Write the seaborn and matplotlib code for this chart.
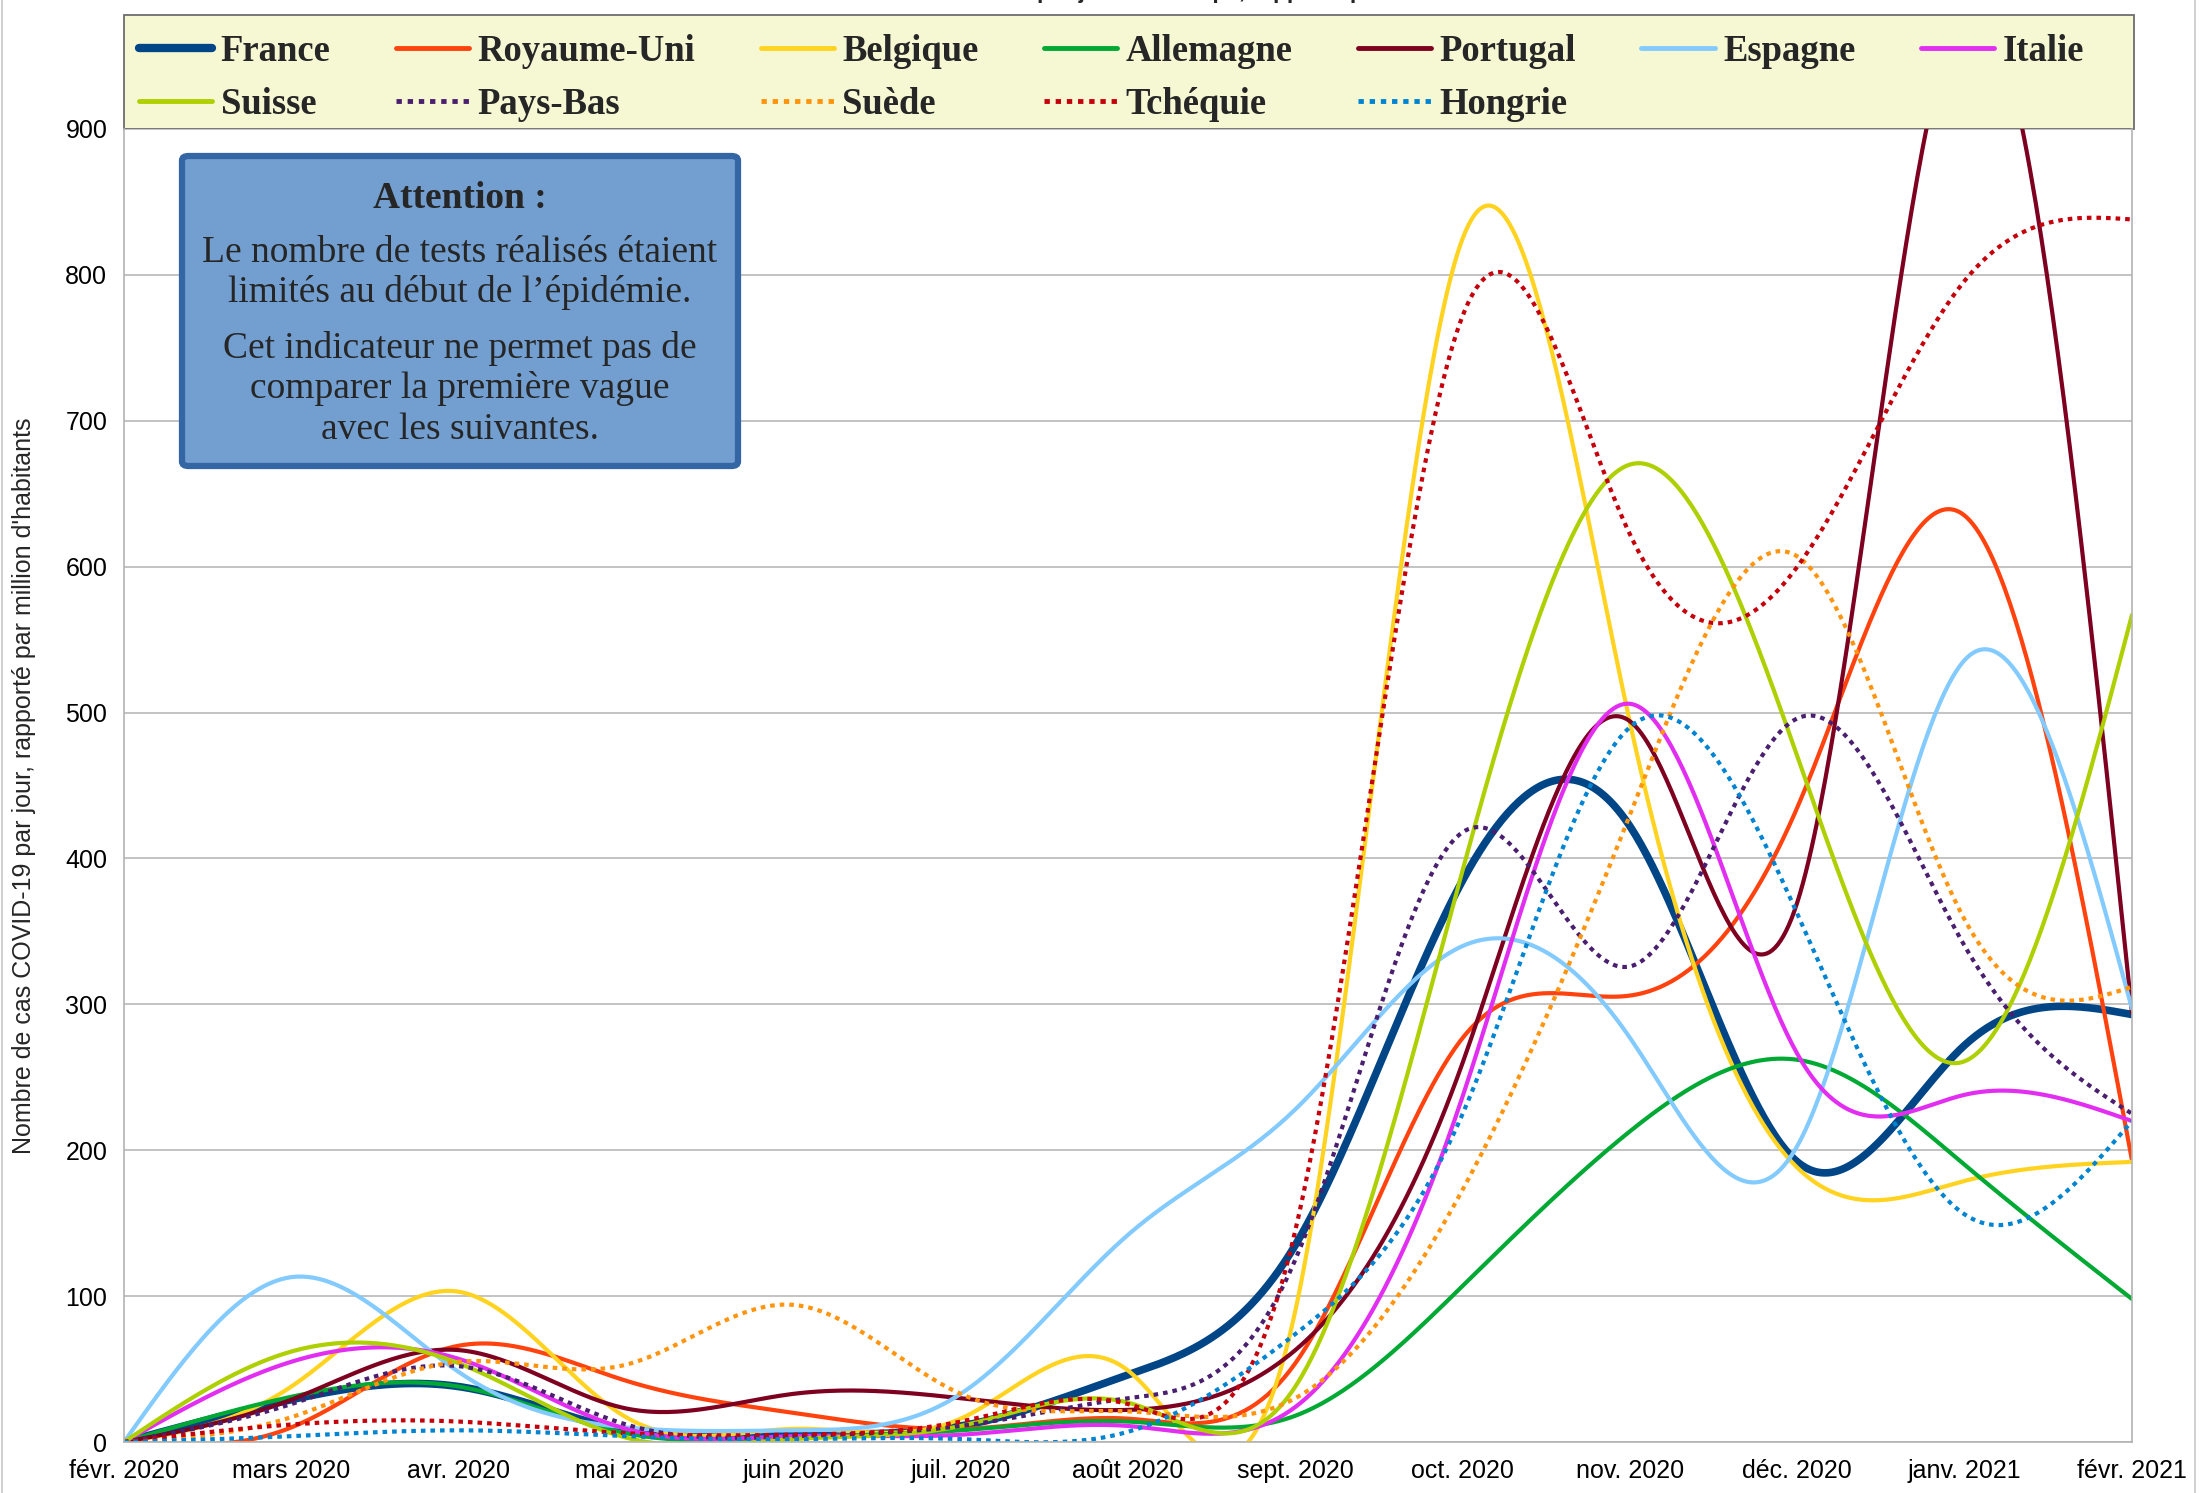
import numpy as np
import matplotlib
matplotlib.use("Agg")
import matplotlib.pyplot as plt
from matplotlib.lines import Line2D
from matplotlib.patches import FancyBboxPatch, Rectangle
import seaborn as sns

# monthly values (cases per day per million)
months = ["févr. 2020", "mars 2020", "avr. 2020", "mai 2020", "juin 2020", "juil. 2020",
          "août 2020", "sept. 2020", "oct. 2020", "nov. 2020", "déc. 2020", "janv. 2021",
          "févr. 2021"]

france = [0, 29, 38, 8, 5, 11, 46, 135, 385, 422, 192, 272, 293]
royaume_uni = [0, 10, 66, 42, 20, 9, 16, 54, 277, 306, 435, 635, 193]
belgique = [0, 38, 103, 17, 9, 16, 49, 90, 825, 493, 188, 179, 192]
allemagne = [0, 31, 38, 6, 3, 8, 14, 18, 107, 213, 262, 190, 98]
portugal = [0, 29, 63, 23, 33, 30, 22, 63, 260, 494, 370, 985, 294]
espagne = [0, 113, 48, 10, 8, 33, 142, 228, 340, 277, 203, 536, 297]
italie = [0, 55, 57, 9, 4, 5, 11, 24, 237, 506, 266, 238, 220]
suisse = [0, 62, 54, 3, 2, 11, 27, 38, 392, 670, 470, 261, 567]
pays_bas = [0, 26, 52, 12, 4, 11, 30, 125, 418, 326, 496, 340, 225]
suede = [0, 17, 55, 53, 94, 33, 21, 30, 173, 430, 607, 358, 312]
tchequie = [0, 12, 14, 6, 5, 14, 26, 145, 772, 622, 600, 796, 838]
hongrie = [0, 4, 8, 4, 2, 2, 7, 74, 225, 490, 362, 156, 220]

series = [
    ("France", france, "#004586", 5.5, "-"),
    ("Royaume-Uni", royaume_uni, "#ff420e", 3.0, "-"),
    ("Belgique", belgique, "#ffd320", 3.0, "-"),
    ("Allemagne", allemagne, "#00a933", 3.0, "-"),
    ("Portugal", portugal, "#7e0021", 3.0, "-"),
    ("Espagne", espagne, "#83caff", 3.0, "-"),
    ("Italie", italie, "#e22ef0", 3.0, "-"),
    ("Suisse", suisse, "#aecf00", 3.0, "-"),
    ("Pays-Bas", pays_bas, "#4b1f6f", 3.0, "dot"),
    ("Suède", suede, "#ff950e", 3.0, "dot"),
    ("Tchéquie", tchequie, "#c5000b", 3.0, "dot"),
    ("Hongrie", hongrie, "#0084d1", 3.0, "dot"),
]
DOT = (0, (1.1, 1.2))


def smooth(values, per_seg=60):
    # natural cubic spline through the monthly points, like the "smooth line" option
    y = np.asarray(values, float)
    n = len(y) - 1
    A = np.zeros((n - 1, n - 1))
    rhs = np.zeros(n - 1)
    for i in range(1, n):
        A[i - 1, i - 1] = 4
        if i > 1:
            A[i - 1, i - 2] = 1
        if i < n - 1:
            A[i - 1, i] = 1
        rhs[i - 1] = 6 * (y[i + 1] - 2 * y[i] + y[i - 1])
    M = np.zeros(n + 1)
    M[1:n] = np.linalg.solve(A, rhs)
    xs, ys = [], []
    for i in range(n):
        t = np.linspace(0, 1, per_seg, endpoint=(i == n - 1))
        s = ((1 - t) * y[i] + t * y[i + 1]
             + ((1 - t) ** 3 - (1 - t)) * M[i] / 6 + (t ** 3 - t) * M[i + 1] / 6)
        xs.append(i + t)
        ys.append(s)
    return np.concatenate(xs), np.concatenate(ys)


sns.set_theme(style="white")
plt.rcParams["font.family"] = ["Liberation Sans", "DejaVu Sans"]

W, H = 2202, 1493
fig = plt.figure(figsize=(W / 100, H / 100), dpi=100)
ax = fig.add_axes([124 / W, 1 - 1442 / H, (2132 - 124) / W, (1442 - 129) / H])

for name, vals, color, lw, ls in series:
    xs, ys = smooth(vals)
    sns.lineplot(x=xs, y=ys, ax=ax, color=color, linewidth=lw, estimator=None,
                 linestyle=DOT if ls == "dot" else "-", sort=False, legend=False)

ax.set_xlim(0, len(months) - 1)
ax.set_ylim(0, 900)
ax.set_xticks(range(len(months)))
ax.set_xticklabels(months)
ax.set_yticks(range(0, 901, 100))
ax.tick_params(axis="both", labelsize=18, colors="#b3b3b3", labelcolor="black",
               direction="out", length=7, width=1.2)
ax.tick_params(axis="x", pad=5)
ax.tick_params(axis="y", pad=5)
ax.grid(axis="y", color="#b3b3b3", linewidth=1.1)
ax.grid(axis="x", visible=False)
for side in ["left", "bottom", "right"]:
    ax.spines[side].set_color("#b3b3b3")
    ax.spines[side].set_linewidth(1.2)
ax.spines["top"].set_visible(False)
ax.set_xlabel("")
ax.set_ylabel("Nombre de cas COVID-19 par jour, rapporté par million d'habitants",
              fontsize=18)
ax.yaxis.set_label_coords(-0.044, 0.5)

# legend frame spans the plot width, entries filled row by row as in the original
fig.patches.append(Rectangle((124 / W, 1 - 129 / H), 2010 / W, 114 / H,
                             transform=fig.transFigure, facecolor="#f6f8d4",
                             edgecolor="#6d6d6d", linewidth=1.3, zorder=-1))
order = ["France", "Suisse", "Royaume-Uni", "Pays-Bas", "Belgique", "Suède",
         "Allemagne", "Tchéquie", "Portugal", "Hongrie", "Espagne", "Italie"]
style = {s[0]: s for s in series}
handles = []
for name in order:
    _, _, color, lw, ls = style[name]
    handles.append(Line2D([], [], color=color, linewidth=lw + 0.5,
                          linestyle=DOT if ls == "dot" else "-", label=name))
leg = fig.legend(handles=handles, ncol=7, loc="center left",
                 bbox_to_anchor=(126 / W, 1 - 78 / H), borderaxespad=0,
                 prop={"family": "Liberation Serif", "weight": "bold", "size": 26.4},
                 handlelength=2.0, handletextpad=0.23, labelspacing=0.5,
                 columnspacing=1.78, borderpad=0.35, frameon=False)

# warning box
box = FancyBboxPatch((182 / W, 1 - 466 / H), 556 / W, 310 / H,
                     boxstyle="round,pad=0,rounding_size=0.003",
                     transform=fig.transFigure, facecolor="#729fcf",
                     edgecolor="#3465a4", linewidth=4.5, zorder=5)
fig.patches.append(box)
serif = {"family": "Liberation Serif", "size": 27}
cx = 460 / W
fig.text(cx, 1 - 199 / H, "Attention :", ha="center", va="center",
         fontweight="bold", zorder=6, **serif)
lines = [("Le nombre de tests réalisés étaient", 253),
         ("limités au début de l’épidémie.", 292),
         ("Cet indicateur ne permet pas de", 348),
         ("comparer la première vague", 388),
         ("avec les suivantes.", 430)]
for txt, yy in lines:
    fig.text(cx, 1 - yy / H, txt, ha="center", va="center", zorder=6, **serif)

# title, mostly above the visible area in the original
fig.text(757 / W, 1 + 1.5 / H, "Nombre de cas COVID-19 par jour en Europe, rapporté par million d'habitants",
         ha="left", va="baseline", fontsize=16.4, fontweight="bold")

fig.patches.append(Rectangle((2 / W, -0.01), 2193 / W, 1.02, transform=fig.transFigure,
                             fill=False, edgecolor="#c8c8c8", linewidth=1.2))

fig.savefig("out.png", dpi=100)
